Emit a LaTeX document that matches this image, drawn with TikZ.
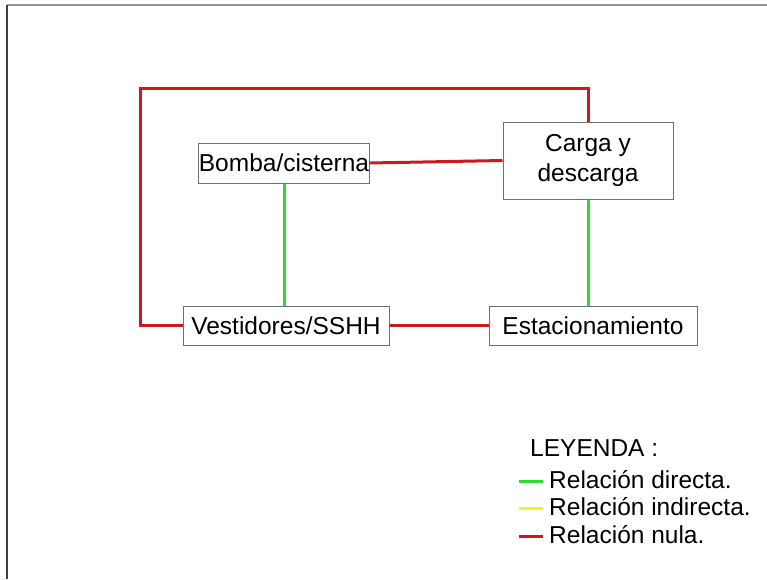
\documentclass[tikz,border=0pt]{standalone}
\usepackage{fontspec}
\setmainfont{Liberation Sans}
\definecolor{rednula}{RGB}{204,24,30}
\definecolor{greendirecta}{RGB}{44,222,44}
\definecolor{yellowindirecta}{RGB}{250,240,40}
\definecolor{boxgray}{RGB}{112,112,112}
\tikzset{
  espacio/.style={draw=boxgray, line width=1pt, inner sep=0pt, align=center},
  nula/.style={rednula, line width=3pt},
  directa/.style={greendirecta, line width=3pt},
  indirecta/.style={yellowindirecta, line width=3pt},
  leyenda/.style={anchor=base west, inner sep=0pt}
}

\begin{document}
\begin{tikzpicture}[x=1pt, y=-1pt, font=\fontsize{24.5}{30}\selectfont]
  \useasboundingbox (0,0) rectangle (767,579);
  \draw[gray!85, line width=1.5pt] (767,5) -- (7,5);
  \draw[black!75, line width=1.5pt] (7,5) -- (7,579);

  \node[espacio, minimum width=170pt, minimum height=40pt] (box-bomba) at (284,163) {Bomba/cisterna};
  \node[espacio, minimum width=170pt, minimum height=77pt] (box-carga) at (588,160.5) {Carga y\\descarga};
  \node[espacio, minimum width=206pt, minimum height=39pt] (box-vest) at (286,325.5) {Vestidores/SSHH};
  \node[espacio, minimum width=208pt, minimum height=39pt] (box-estac) at (593,325.5) {Estacionamiento};

  \coordinate (corner-top) at (140,88);
  \draw[nula] (box-carga.north) |- (corner-top) |- (box-vest.west);
  \draw[nula] (box-bomba.east) -- (box-carga.west);
  \draw[nula] (box-vest.east) -- (box-estac.west);
  \draw[directa] (box-bomba.south) -- (box-bomba.south |- box-vest.north);
  \draw[directa] (box-carga.south) -- (box-carga.south |- box-estac.north);

  % leyenda
  \node[leyenda] (leg-title) at (530,456) {LEYENDA :};
  \node[leyenda] (leg-directa) at (549,488) {Relación directa.};
  \node[leyenda] (leg-indirecta) at ([yshift=-27.5pt]leg-directa.base west) {Relación indirecta.};
  \node[leyenda] (leg-nula) at ([yshift=-27.5pt]leg-indirecta.base west) {Relación nula.};
  \draw[directa] ([xshift=-30pt, yshift=7pt]leg-directa.base west) -- ([xshift=-6pt, yshift=7pt]leg-directa.base west);
  \draw[indirecta] ([xshift=-30pt, yshift=7pt]leg-indirecta.base west) -- ([xshift=-6pt, yshift=7pt]leg-indirecta.base west);
  \draw[nula] ([xshift=-30pt, yshift=7pt]leg-nula.base west) -- ([xshift=-6pt, yshift=7pt]leg-nula.base west);
\end{tikzpicture}
\end{document}
